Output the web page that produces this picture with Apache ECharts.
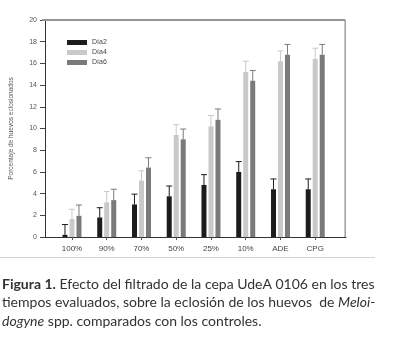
<!DOCTYPE html>
<html>
<head>
<meta charset="utf-8">
<script src="https://cdn.jsdelivr.net/npm/echarts@6/dist/echarts.min.js"></script>
<style>
  html, body { margin: 0; padding: 0; background: #fff; }
  #chart { width: 400px; height: 348px; }
</style>
</head>
<body>
<div id="chart"></div>
<script>
// datos
const categories = ['100%', '90%', '70%', '50%', '25%', '10%', 'ADE', 'CPG'];
const seriesNames = ['Día2', 'Día4', 'Día6'];
const dia2 = [0.2, 1.8, 3.0, 3.75, 4.8, 6.0, 4.4, 4.4];
const dia2Err = [0.95, 0.9, 0.95, 0.95, 0.95, 0.95, 0.95, 0.95];
const dia4 = [1.65, 3.2, 5.2, 9.4, 10.2, 15.2, 16.2, 16.4];
const dia4Err = [0.9, 1.0, 0.9, 0.95, 1.0, 1.0, 0.95, 1.0];
const dia6 = [1.95, 3.4, 6.4, 9.0, 10.8, 14.4, 16.8, 16.8];
const dia6Err = [1.0, 1.0, 0.9, 0.95, 1.0, 0.95, 0.95, 0.95];
const yTicks = [0, 2, 4, 6, 8, 10, 12, 14, 16, 18, 20];

const colors = ['#1c1c1c', '#c9c9c9', '#7a7a7a'];
const values = [dia2, dia4, dia6];
const errors = [dia2Err, dia4Err, dia6Err];
const offsets = [-7, 0, 7];

const myChart = echarts.init(document.getElementById('chart'));

const barSeries = values.map((v, i) => ({
  name: seriesNames[i],
  type: 'bar',
  xAxisIndex: 1,
  yAxisIndex: 1,
  barWidth: 5,
  barGap: '40%',
  itemStyle: { color: colors[i] },
  data: v
}));

const errSeries = values.map((v, i) => ({
  type: 'custom',
  xAxisIndex: 1,
  yAxisIndex: 1,
  silent: true,
  z: 3,
  data: v.map((val, k) => [k, val, val + errors[i][k]]),
  renderItem: (params, api) => {
    const p0 = api.coord([api.value(0), api.value(1)]);
    const p1 = api.coord([api.value(0), api.value(2)]);
    const x = p0[0] + offsets[i];
    const style = { stroke: colors[i], lineWidth: 1 };
    return {
      type: 'group',
      children: [
        { type: 'line', shape: { x1: x, y1: p0[1], x2: x, y2: p1[1] }, style },
        { type: 'line', shape: { x1: x - 3, y1: p1[1], x2: x + 3, y2: p1[1] }, style }
      ]
    };
  }
}));

// borde superior y derecho del marco: se dibuja en el grid de barras (1),
// usando la escala y (20) y el ancho de banda de la categoria
const frameSeries = {
  type: 'custom',
  xAxisIndex: 1,
  yAxisIndex: 1,
  silent: true,
  clip: false,
  z: 4,
  data: [[0, 20]],
  renderItem: (params, api) => {
    const c = params.coordSys;
    const band = api.size([1, 0])[0];
    const left = c.x - band * 0.36;
    const right = c.x + c.width + band * 0.36;
    const top = api.coord([0, 20])[1];
    const bottom = api.coord([0, 0])[1];
    return {
      type: 'group',
      children: [
        { type: 'line', shape: { x1: left, y1: top, x2: right, y2: top },
          style: { stroke: '#959595', lineWidth: 2 } },
        { type: 'line', shape: { x1: right, y1: top, x2: right, y2: bottom },
          style: { stroke: '#6e6e6e', lineWidth: 1 } }
      ]
    };
  }
};

const options = {
  animation: false,
  textStyle: { fontFamily: 'Liberation Sans' },
  grid: [
    // marco exterior
    { left: 41, right: 54, top: 20, bottom: 111 },
    // area de barras, con margen a cada lado
    { left: 54.6, right: 67.4, top: 20, bottom: 111 }
  ],
  legend: {
    data: seriesNames,
    orient: 'vertical',
    left: 62,
    top: 34,
    itemWidth: 20,
    itemHeight: 5,
    itemGap: 3,
    icon: 'rect',
    textStyle: { fontSize: 7, color: '#444', fontFamily: 'Liberation Sans' }
  },
  xAxis: [
    {
      gridIndex: 0, type: 'value', min: 0, max: 1, position: 'bottom',
      axisLine: { show: true, onZero: false, lineStyle: { color: '#333', width: 1 } },
      axisTick: { show: false }, axisLabel: { show: false }, splitLine: { show: false }
    },
    {
      gridIndex: 1, type: 'category', data: categories,
      axisLine: { show: false },
      axisTick: { show: true, alignWithLabel: true, length: 3, lineStyle: { color: '#555' } },
      axisLabel: { fontSize: 8, color: '#444', margin: 8 }
    }
  ],
  yAxis: [
    {
      gridIndex: 0, type: 'value', min: 0, max: 20, interval: 2, position: 'left',
      name: 'Porcentaje de huevos eclosionados',
      nameLocation: 'middle', nameGap: 30,
      nameTextStyle: { fontSize: 6.5, color: '#555' },
      axisLine: { show: true, onZero: false, lineStyle: { color: '#333' } },
      axisTick: { show: true, length: 5, lineStyle: { color: '#444' } },
      axisLabel: { fontSize: 7, color: '#555', margin: 8,
        formatter: v => yTicks.includes(v) ? String(v) : '' },
      splitLine: { show: false }
    },
    {
      gridIndex: 1, type: 'value', min: 0, max: 20, show: false
    }
  ],
  graphic: [
    {
      type: 'line', silent: true,
      shape: { x1: 0, y1: 257.5, x2: 375, y2: 257.5 },
      style: { stroke: '#d4d4d4', lineWidth: 1 }
    },
    {
      type: 'text', left: 2, top: 275, silent: true,
      style: {
        text: '{b|Figura 1.} Efecto del filtrado de la cepa UdeA 0106 en los tres\n' +
              'tiempos evaluados, sobre la eclosión de los huevos  de {i|Meloi-}\n' +
              '{i|dogyne} spp. comparados con los controles.',
        font: '14px Lato',
        fill: '#333',
        lineHeight: 18.5,
        rich: {
          b: { fontWeight: 'bold', fontSize: 14, fontFamily: 'Lato', fill: '#333', lineHeight: 18.5 },
          i: { fontStyle: 'italic', fontSize: 14, fontFamily: 'Lato', fill: '#333', lineHeight: 18.5 }
        }
      }
    }
  ],
  series: [...barSeries, ...errSeries, frameSeries]
};

myChart.setOption(options);
</script>
</body>
</html>
